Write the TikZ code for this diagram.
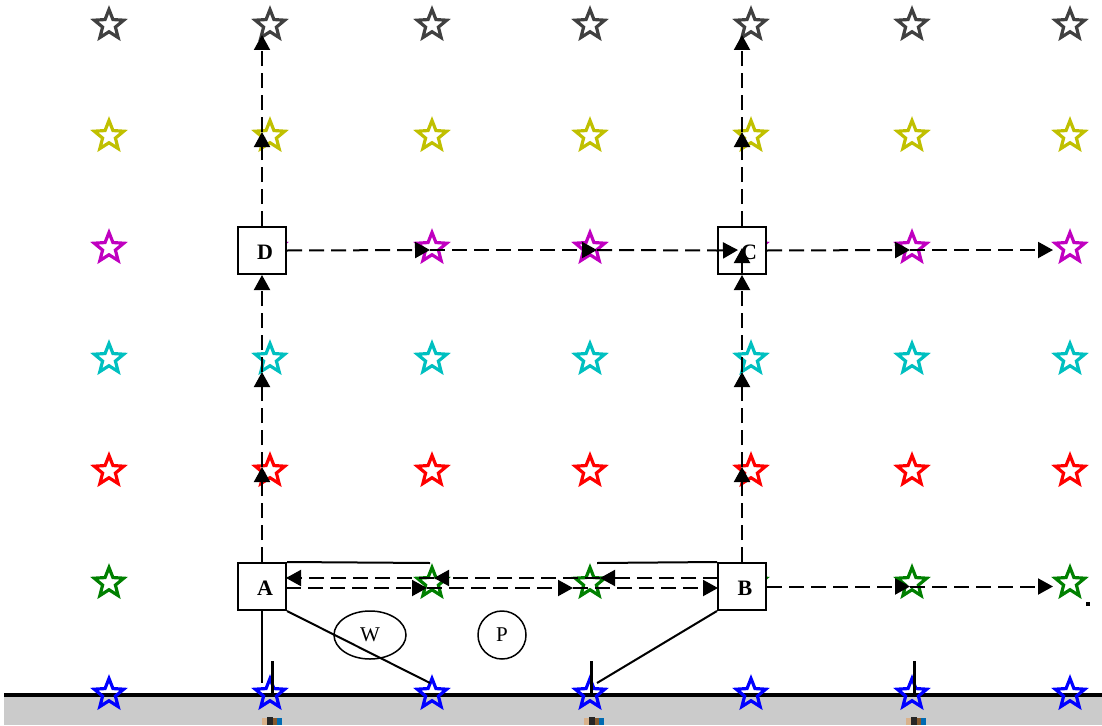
\documentclass[tikz,border=0pt]{standalone}
\usepackage{fontspec}
\setmainfont{Liberation Serif}
\usetikzlibrary{shapes.geometric,arrows.meta,calc}
\definecolor{sdark}{HTML}{404040}
\definecolor{syel}{HTML}{C0C000}
\definecolor{smag}{HTML}{C000C0}
\definecolor{scyan}{HTML}{00C0C0}
\definecolor{sred}{HTML}{FF0000}
\definecolor{sgreen}{HTML}{008000}
\definecolor{sblue}{HTML}{0000FF}
\definecolor{ground}{HTML}{CBCBCB}
\tikzset{
  stardot/.style={star, star points=5, star point ratio=2.3, minimum size=31pt, inner sep=0pt, draw, line width=3.2pt},
  box/.style={draw, fill=white, line width=2pt, minimum width=48pt, minimum height=47pt, inner sep=0pt},
  boxlabel/.style={inner sep=0pt, font=\fontsize{22}{26}\selectfont\bfseries},
  flow/.style={line width=2pt, dash pattern=on 15pt off 7pt, -{Triangle[length=15pt,width=16pt]}},
  tipflow/.style={line width=2pt, -{Triangle[length=15pt,width=16pt]}},
  plain/.style={line width=2pt},
  tick/.style={line width=3pt},
  oval/.style={ellipse, draw, line width=1.5pt, minimum width=72pt, minimum height=48pt, inner sep=0pt, font=\fontsize{21}{24}\selectfont},
  ring/.style={circle, draw, line width=1.5pt, minimum size=48pt, inner sep=0pt, font=\fontsize{21}{24}\selectfont}
}
\begin{document}
\begin{tikzpicture}[x=1pt,y=-1pt]
\useasboundingbox (0,0) rectangle (1102,725);
\fill[white] (0,0) rectangle (1102,725);
% ground
\fill[ground] (4,697) rectangle (1102,725);
\draw[line width=4pt] (4,695) -- (1102,695);
% small images below ground
\foreach \bx in {262,584,906}{
  \fill[brown!60!white] (\bx,718) rectangle ++(5,7);
  \fill[black!85] (\bx+5,717) rectangle ++(6,8);
  \fill[brown!70!black] (\bx+11,718) rectangle ++(4,7);
  \fill[blue!40!cyan!70!black] (\bx+15,718) rectangle ++(5,7);
}
% stars
\foreach \c/\xx in {1/109,2/270,3/432,4/590,5/751,6/912,7/1070}{
  \foreach \r/\yy/\col in {1/25/sdark,2/136/syel,3/248/smag,4/359/scyan,5/471/sred,6/583/sgreen,7/694/sblue}{
    \node[stardot, draw=\col] (s\r\c) at (\xx,\yy) {};
  }
}
% boxes
\node[box] (A) at (262,586.5) {};
\node[box] (B) at (742,586.5) {};
\node[box] (C) at (742,250.5) {};
\node[box] (D) at (262,250.5) {};
\node[boxlabel] (At) at (265,588) {A};
\node[boxlabel] (Bt) at (745,588) {B};
\node[boxlabel] (Ct) at (749,252) {C};
\node[boxlabel] (Dt) at (265,252) {D};
% W and P
\node[oval] (W) at (370,635) {W};
\node[ring] (P) at (502,635) {P};
% coordinates
\coordinate (a1) at (262,467);
\coordinate (a2) at (262,372);
\coordinate (d1) at (262,132);
\coordinate (d2) at (262,35);
\coordinate (b1) at (742,467);
\coordinate (b2) at (742,372);
\coordinate (cin) at (742,248);
\coordinate (c1) at (742,132);
\coordinate (c2) at (742,35);
\coordinate (h1) at (430,250);
\coordinate (h2) at (597,250);
\coordinate (hin) at (738,250);
\coordinate (h3) at (910,250);
\coordinate (h4) at (1053,250);
\coordinate (Al) at (286,588);
\coordinate (l1) at (427,588);
\coordinate (l2) at (573,588);
\coordinate (Bl) at (718,588);
\coordinate (Bu) at (718,578);
\coordinate (u1) at (600,578);
\coordinate (u2) at (434,578);
\coordinate (Au) at (286,578);
\coordinate (r1) at (910,586.5);
\coordinate (r2) at (1053,586.5);
\coordinate (g1) at (430,683);
\coordinate (g2) at (597,683);
\coordinate (g0) at (262,683);
\coordinate (t1) at (430,563);
\coordinate (t2) at (597,563);
% vertical flows
\draw[flow] (A.north) -- (a1);
\draw[flow] (a1) -- (a2);
\draw[flow] (a2) -- (D.south);
\draw[flow] (D.north) -- (d1);
\draw[flow] (d1) -- (d2);
\draw[flow] (B.north) -- (b1);
\draw[flow] (b1) -- (b2);
\draw[flow] (b2) -- (C.south);
\draw[tipflow] (C.south) -- (cin);
\draw[flow] (C.north) -- (c1);
\draw[flow] (c1) -- (c2);
% horizontal flows row D-C
\draw[flow] (D.east) -- (h1);
\draw[flow] (h1) -- (h2);
\draw[plain, dash pattern=on 15pt off 7pt] (h2) -- (C.west);
\draw[tipflow] (C.west) -- (hin);
\draw[flow] (C.east) -- (h3);
\draw[flow] (h3) -- (h4);
% row A-B
\draw[flow] (Al) -- (l1);
\draw[flow] (l1) -- (l2);
\draw[flow] (l2) -- (Bl);
\draw[flow] (Bu) -- (u1);
\draw[flow] (u1) -- (u2);
\draw[flow] (u2) -- (Au);
\draw[flow] (B.east) -- (r1);
\draw[flow] (r1) -- (r2);
% solid lines
\draw[plain] (A.north east) -- (t1);
\draw[plain] (t2) -- (B.north west);
\draw[plain] (A.south) -- (g0);
\draw[plain] (A.south east) -- (g1);
\draw[plain] (B.south west) -- (g2);
% ticks
\coordinate (k1) at (272,661); \coordinate (k1b) at (272,694);
\coordinate (k2) at (591,661); \coordinate (k2b) at (591,694);
\coordinate (k3) at (914,661); \coordinate (k3b) at (914,694);
\draw[tick] (k1) -- (k1b);
\draw[tick] (k2) -- (k2b);
\draw[tick] (k3) -- (k3b);
% dot
\fill (1086,602) rectangle (1090,606);
\end{tikzpicture}
\end{document}
